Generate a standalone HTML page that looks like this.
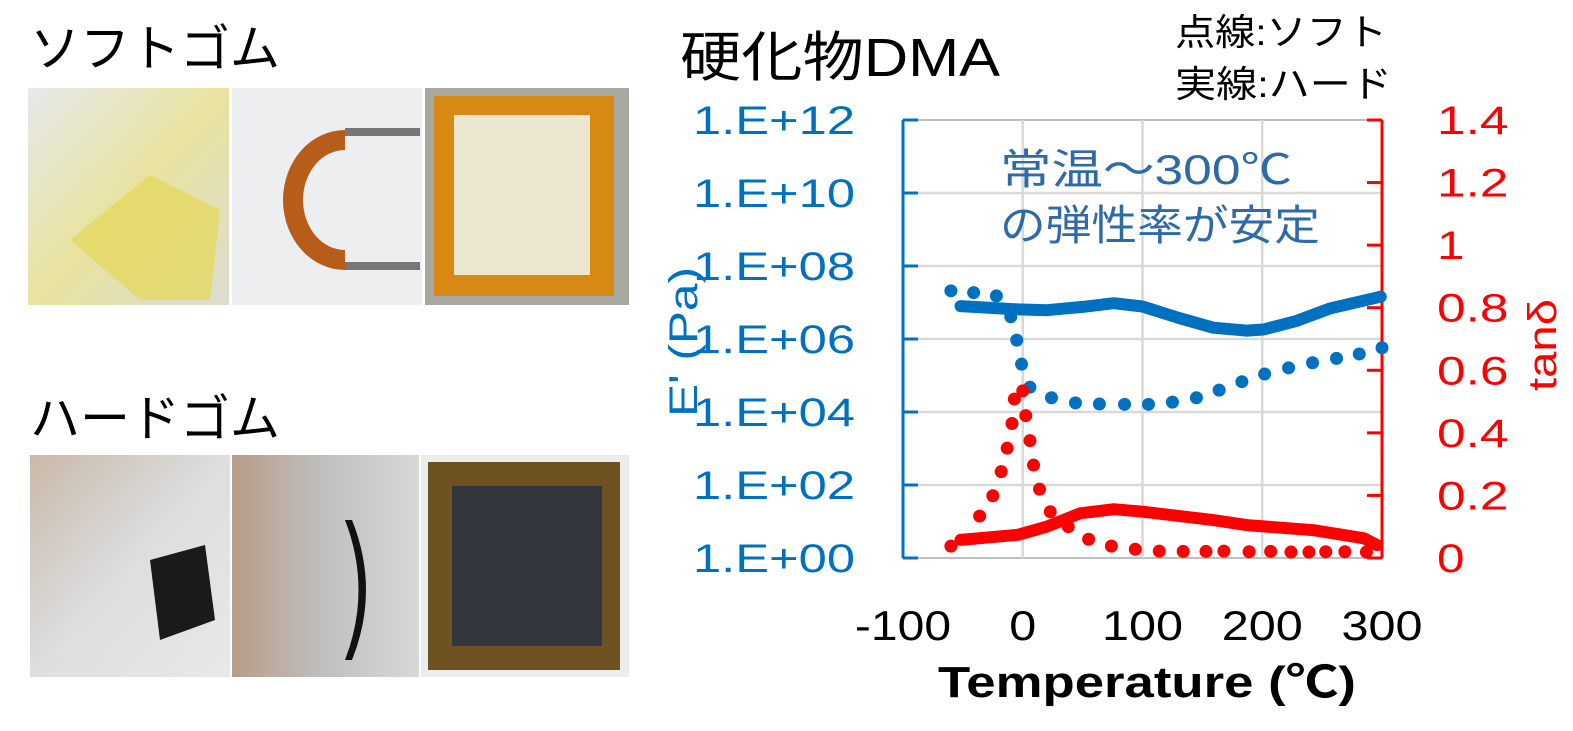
<!DOCTYPE html>
<html><head><meta charset="utf-8"><style>
body{margin:0;background:#fff;}
svg{display:block;font-family:"Liberation Sans","Noto Sans CJK JP",sans-serif;}
</style></head><body>
<svg width="1573" height="731" viewBox="0 0 1573 731">
<defs>
<linearGradient id="g1" x1="0" y1="0" x2="1" y2="1"><stop offset="0" stop-color="#e6e8ea"/><stop offset="0.5" stop-color="#e8e3a0"/><stop offset="1" stop-color="#dcdcd0"/></linearGradient>
<linearGradient id="g4" x1="0" y1="0" x2="1" y2="1"><stop offset="0" stop-color="#c9b9a8"/><stop offset="0.5" stop-color="#dcdedf"/><stop offset="1" stop-color="#e8e8e8"/></linearGradient>
<linearGradient id="g5" x1="0" y1="0" x2="1" y2="0"><stop offset="0" stop-color="#b89c88"/><stop offset="0.5" stop-color="#bfc0c2"/><stop offset="1" stop-color="#d8d8d8"/></linearGradient>
</defs>
<text x="30" y="66" font-size="50">ソフトゴム</text>
<text x="30" y="436" font-size="50">ハードゴム</text>
<g>
<rect x="28" y="88" width="201" height="217" fill="url(#g1)"/>
<path d="M70 240 L150 175 L220 210 L210 300 L140 300 Z" fill="#e4d860" opacity="0.8"/>
<rect x="232" y="88" width="190" height="217" fill="#eceeef"/>
<path d="M345 130 A62 70 0 1 0 345 270 L345 250 A42 50 0 1 1 345 150 Z" fill="#b85c1a"/>
<rect x="345" y="128" width="75" height="8" fill="#777"/><rect x="345" y="262" width="75" height="8" fill="#777"/>
<rect x="425" y="88" width="204" height="217" fill="#a8a8a0"/>
<rect x="434" y="96" width="180" height="200" fill="#d68a14"/>
<rect x="454" y="115" width="136" height="160" fill="#ebe6cf"/>
</g>
<g>
<rect x="30" y="455" width="200" height="222" fill="url(#g4)"/>
<path d="M150 560 L205 545 L215 620 L160 640 Z" fill="#1a1a1a"/>
<rect x="232" y="455" width="187" height="222" fill="url(#g5)"/>
<path d="M345 520 Q372 590 345 660 L352 660 Q380 590 352 520 Z" fill="#111"/>
<rect x="421" y="455" width="208" height="222" fill="#ececea"/>
<rect x="428" y="462" width="192" height="208" fill="#6e5222"/>
<rect x="452" y="486" width="150" height="160" fill="#33363c"/>
</g>
<text x="680" y="76" font-size="54" textLength="320" lengthAdjust="spacingAndGlyphs">硬化物DMA</text>
<text x="1175" y="45" font-size="37" textLength="212" lengthAdjust="spacingAndGlyphs">点線:ソフト</text>
<text x="1175" y="97" font-size="37" textLength="217" lengthAdjust="spacingAndGlyphs">実線:ハード</text>
<g id="chart"></g>
</svg>
<script>
const tempTicks=[-100,0,100,200,300];
const leftTicks=["1.E+00","1.E+02","1.E+04","1.E+06","1.E+08","1.E+10","1.E+12"];
const rightTicks=["0","0.2","0.4","0.6","0.8","1","1.2","1.4"];
const softET=[-60,-41,-22,-10,-5,-1,6,24,44,64,85,105,125,145,164,183,202,222,242,262,281,300];
const softELog=[7.32,7.27,7.18,6.61,5.97,5.31,4.68,4.39,4.25,4.22,4.21,4.21,4.27,4.39,4.60,4.83,5.04,5.21,5.35,5.47,5.59,5.76];
const hardET=[-52,-4,20,50,76,100,131,159,187,201,229,257,299];
const hardELog=[6.90,6.81,6.79,6.88,6.98,6.89,6.57,6.31,6.23,6.26,6.50,6.84,7.16];
const softTanT=[-60,-36,-25,-18,-13,-9,-7,0,2.5,6,9,14,23,38,55,74,94,114,134,153,168,189,207,224,239,253,269,287];
const softTan=[0.038,0.134,0.199,0.276,0.351,0.430,0.508,0.534,0.455,0.375,0.297,0.220,0.148,0.100,0.060,0.038,0.028,0.022,0.021,0.021,0.022,0.020,0.021,0.019,0.019,0.020,0.020,0.019];
const hardTanT=[-52,-4,20,48,76,100,159,187,243,285,296];
const hardTan=[0.058,0.074,0.100,0.143,0.156,0.148,0.121,0.105,0.089,0.063,0.041];
const X0=903,X1=1382,Y0=558,Y1=120;
const xs=t=>X0+(t+100)/400*(X1-X0);
const yl=v=>Y0-v/12*(Y0-Y1);
const yr=v=>Y0-v/1.4*(Y0-Y1);
const NS="http://www.w3.org/2000/svg";
const g=document.getElementById('chart');
function mk(tag,attrs,parent){const e=document.createElementNS(NS,tag);for(const k in attrs)e.setAttribute(k,attrs[k]);(parent||g).appendChild(e);return e;}
const cw=s=>[...s].reduce((a,c)=>a+(c==='.'?15:c==='-'?14:c==='E'?27:c==='+'?30:25),0);
mk('rect',{x:X0,y:Y1,width:X1-X0,height:Y0-Y1,fill:'#fff',stroke:'#bfbfbf','stroke-width':2});
for(let i=1;i<6;i++){const l=mk('line',{x1:X0,x2:X1,y1:yl(i*2),y2:yl(i*2),stroke:'#d9d9d9','stroke-width':2.5});

}
tempTicks.forEach((t,i)=>{if(i>0&&i<4){const l=mk('line',{x1:xs(t),x2:xs(t),y1:Y1,y2:Y0,stroke:'#d9d9d9','stroke-width':2.5});

}
const s=String(t);
const tx=mk('text',{x:xs(t),y:640,'font-size':42,'text-anchor':'middle',fill:'#000',textLength:cw(s)*1.08,lengthAdjust:'spacingAndGlyphs'});tx.textContent=s;

});
const la=mk('line',{x1:X0,x2:X0,y1:Y1,y2:Y0,stroke:'#0070c0','stroke-width':3});


const ra=mk('line',{x1:X1,x2:X1,y1:Y1,y2:Y0,stroke:'#ff0000','stroke-width':3});


leftTicks.forEach((s,i)=>{mk('line',{x1:X0,x2:X0+15,y1:yl(i*2),y2:yl(i*2),stroke:'#0070c0','stroke-width':3});
const tx=mk('text',{x:855,y:yl(i*2)+14,'font-size':40,'text-anchor':'end',fill:'#0070c0',textLength:162,lengthAdjust:'spacingAndGlyphs'});tx.textContent=s;

});
rightTicks.forEach((s,i)=>{const v=i*0.2;mk('line',{x1:X1-15,x2:X1,y1:yr(v),y2:yr(v),stroke:'#ff0000','stroke-width':3});
const tx=mk('text',{x:1437,y:yr(v)+14,'font-size':40,fill:'#ff0000',textLength:cw(s)*1.1,lengthAdjust:'spacingAndGlyphs'});tx.textContent=s;

});
function path(T,V,f,color,name){const d=T.map((t,i)=>(i?'L':'M')+xs(t).toFixed(1)+' '+f(V[i]).toFixed(1)).join(' ');
const p=mk('path',{d:d,fill:'none',stroke:color,'stroke-width':12,'stroke-linecap':'round','stroke-linejoin':'round'});

}
function dots(T,V,f,color,name){const gg=mk('g',{});


T.forEach((t,i)=>mk('circle',{cx:xs(t),cy:f(V[i]),r:6.5,fill:color},gg));}
path(hardET,hardELog,yl,'#0070c0','hard-modulus-line');
dots(softET,softELog,yl,'#0070c0','soft-modulus-dots');
path(hardTanT,hardTan,yr,'#ff0000','hard-tan-delta-line');
dots(softTanT,softTan,yr,'#ff0000','soft-tan-delta-dots');
const a1=mk('text',{x:1000,y:184,'font-size':42,fill:'#2e6aa8',textLength:292,lengthAdjust:'spacingAndGlyphs'});a1.textContent='常温～300℃';


const a2=mk('text',{x:1000,y:240,'font-size':42,fill:'#2e6aa8',textLength:320,lengthAdjust:'spacingAndGlyphs'});a2.textContent='の弾性率が安定';


const xt=mk('text',{x:1147,y:697,'font-size':44,'font-weight':'bold','text-anchor':'middle',textLength:418,lengthAdjust:'spacingAndGlyphs'});xt.textContent='Temperature (℃)';


const yt=mk('text',{x:0,y:0,'font-size':40,fill:'#0070c0','text-anchor':'middle',transform:'translate(697,342) rotate(-90)',textLength:150,lengthAdjust:'spacingAndGlyphs'});yt.textContent="E' (Pa)";


const rt=mk('text',{x:0,y:0,'font-size':40,fill:'#ff0000','text-anchor':'middle',transform:'translate(1556,345) rotate(-90)',textLength:92,lengthAdjust:'spacingAndGlyphs'});rt.textContent='tanδ';


</script>
</body></html>
